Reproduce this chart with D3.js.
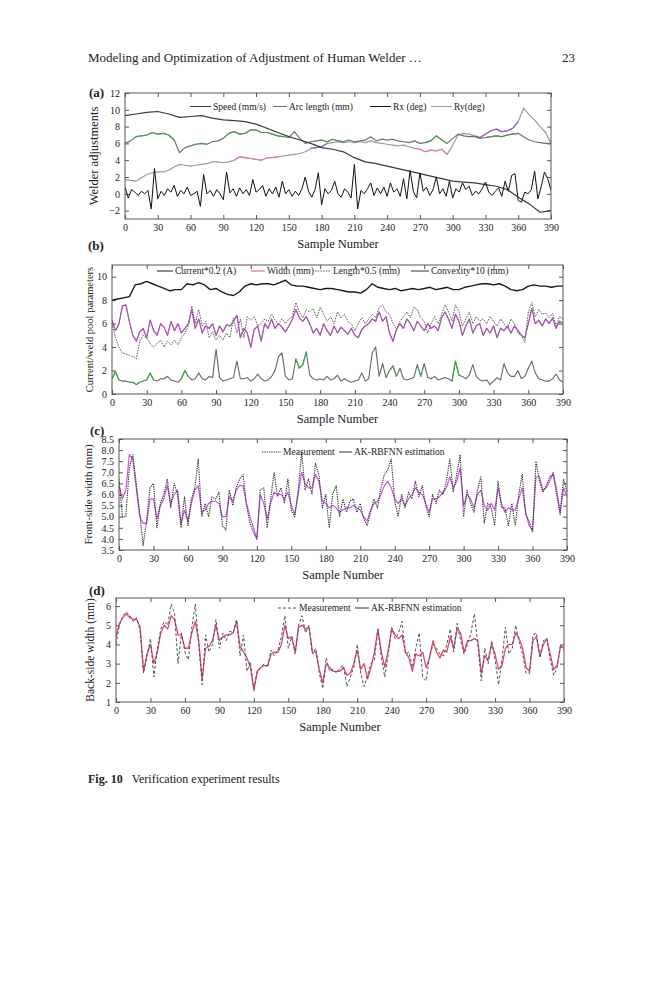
<!DOCTYPE html>
<html><head><meta charset="utf-8">
<script src="https://cdn.jsdelivr.net/npm/d3@7"></script>
<style>
body{margin:0;background:#fff}
svg{display:block}
text{font-family:"Liberation Serif","DejaVu Serif",serif;fill:#222}
</style>
</head><body>
<svg id="c" width="659" height="1000"></svg>
<script>
// ---------- DATA ----------
const sampleTicks = [0,30,60,90,120,150,180,210,240,270,300,330,360,390];

// Panel (a) – welder adjustments
const speedStep = 10;
const speed = [9.3,9.5,9.7,9.8,9.5,9.1,9.2,9.3,9.0,8.8, 8.7,8.6,8.3,7.8,7.3,6.8,6.4,6.0,5.5,5.3,
  5.0,4.3,3.8,3.6,3.3,3.0,2.7,2.4,2.1,1.8, 1.5,1.4,1.3,1.1,0.9,0.5,-0.4,-1.2,-2.2,-2.0];
const arcStep = 5;
const arcLength = [6.0,6.3,6.8,6.9,7.0,7.3,7.1,7.2,7.0,6.4, 4.9,5.5,5.7,5.9,6.0,5.9,6.2,6.3,6.6,7.2,
  7.4,7.1,7.2,7.6,7.6,7.3,7.3,7.1,6.9,6.8, 6.7,7.4,6.6,6.0,6.2,6.3,6.4,6.2,6.5,6.3,
  6.2,6.4,6.2,6.3,6.4,6.8,6.3,6.5,6.4,6.5, 6.3,6.2,6.1,6.3,6.0,6.1,6.3,6.9,6.4,6.0,
  6.6,7.1,6.9,6.8,6.8,6.6,6.7,6.8,6.9,6.8, 7.0,7.1,7.2,6.8,6.4,6.2,6.1,6.0,6.0];
const rxStep = 3;
const rx = [0.8,-0.5,0.5,0.2,-0.2,0.3,0.0,0.4,-1.8,3.0, -0.6,0.3,-0.2,0.6,0.2,1.0,-0.3,0.4,0.0,0.8,
  -0.2,0.0,0.3,-1.5,2.3,0.0,0.4,-0.3,0.5,0.0, -0.7,2.6,0.1,0.6,-0.3,0.7,0.0,0.5,-0.2,1.7,
  0.2,0.5,1.0,-0.3,0.6,0.0,0.8,-0.4,1.5,0.0, 0.5,-0.3,0.3,-0.2,0.6,2.0,0.3,-0.4,0.5,2.5,
  -1.3,0.6,0.0,0.4,1.5,0.0,-0.4,0.6,0.2,-0.5, 3.5,-1.8,0.4,0.0,0.6,1.3,-0.2,0.7,0.0,0.8,
  -0.3,1.3,0.2,0.6,-0.3,1.8,-0.6,2.8,0.3,-0.5, 2.5,0.3,0.8,-0.2,0.5,2.0,0.0,0.6,-0.3,1.5,
  -0.5,0.6,0.2,1.3,0.5,0.9,-0.2,0.3,0.0,0.6, 1.4,0.2,-0.2,0.3,0.7,-0.3,1.5,0.3,2.2,2.4,
  -0.8,-1.0,0.2,0.0,0.5,2.7,-0.6,0.8,2.6,1.8, 0.4];
const ryStep = 5;
const ry = [1.7,1.6,1.5,1.9,2.3,2.5,2.6,2.6,2.8,3.2, 3.5,3.4,3.3,3.4,3.5,3.6,3.8,3.8,3.7,3.8,
  4.0,4.4,4.3,4.2,4.1,4.0,4.3,4.3,4.4,4.5, 4.6,4.7,4.8,5.0,5.4,5.5,5.6,6.0,6.1,6.2,
  6.1,6.2,6.1,6.2,6.1,6.3,6.1,6.0,5.9,5.8, 5.7,5.8,5.6,5.4,5.3,5.0,5.2,5.1,5.3,4.7,
  5.8,7.0,7.2,7.1,6.9,6.7,7.1,7.5,7.7,7.4, 7.5,7.8,8.6,10.2,9.4,8.8,8.0,7.3,6.0];
const arcGreenRanges = [[10,45],[60,75],[90,145],[175,200],[275,295],[330,360]];
const ryPinkRanges = [[100,140],[265,295]];
const ryPurpleRanges = [[170,185],[320,360]];

// Panel (b) – current / weld pool parameters
const currentStep = 5;
const current = [8.0,8.1,8.2,8.3,9.3,9.4,9.6,9.4,9.2,9.0, 8.8,8.9,8.9,9.4,9.3,9.5,9.3,8.9,9.0,8.7,
  8.5,8.4,8.7,9.2,9.4,9.3,9.4,9.4,9.3,9.5, 9.7,9.3,9.2,9.2,9.1,9.0,8.9,9.0,9.0,8.9,
  8.8,8.7,8.7,8.6,8.9,9.4,9.1,9.0,8.9,9.0, 8.8,8.9,9.0,8.9,9.0,9.1,8.9,9.0,9.1,8.9,
  8.9,9.1,9.2,9.3,9.4,9.4,9.3,9.4,9.2,8.9, 8.8,8.9,9.2,9.3,9.2,9.2,9.1,9.2,9.2];
const poolStep = 3;
const width = [6.3,5.4,6.0,7.5,7.6,6.2,5.0,4.5,5.3,5.6, 4.8,6.3,5.4,5.0,6.0,5.7,5.0,6.2,5.4,6.0,
  5.2,5.6,6.0,7.2,5.6,6.4,5.2,5.8,5.6,6.0, 5.0,5.8,5.3,5.9,5.8,6.2,6.7,4.8,5.6,5.2,
  4.0,5.5,5.8,4.5,6.0,5.6,6.4,5.6,6.0,5.7, 5.3,5.8,6.4,7.2,6.5,6.2,6.6,6.0,5.2,5.6,
  5.0,6.0,5.4,5.0,5.8,5.2,5.7,5.4,5.1,5.6, 5.0,4.8,5.5,5.8,6.0,6.4,6.2,7.0,6.2,6.6,
  5.2,4.5,5.5,6.0,5.6,6.4,6.0,5.4,6.2,5.8, 5.4,6.0,5.6,5.8,5.4,6.5,7.0,6.4,5.6,6.8,
  6.2,5.0,5.8,6.4,5.2,5.8,6.0,5.0,5.6,5.2, 5.8,4.8,5.6,5.4,5.8,5.2,5.8,5.4,5.0,4.8,
  6.0,7.3,6.0,6.3,5.8,6.4,6.0,6.5,5.6,6.2, 6.0];
const lengthHalf = [6.0,4.8,4.0,3.5,3.4,3.3,3.2,3.0,4.5,5.0, 4.8,4.3,4.0,4.3,4.6,4.0,4.5,4.2,4.6,4.2,
  4.8,5.2,5.8,7.5,6.0,7.2,5.8,6.2,4.8,5.3, 4.6,5.0,4.6,5.2,4.8,6.5,5.2,6.4,4.8,6.6,
  6.3,6.6,5.8,6.0,6.4,6.2,6.8,6.3,6.0,6.4, 6.0,6.4,6.6,7.8,7.0,6.5,7.2,7.0,7.3,6.5,
  7.4,6.8,6.2,6.6,6.0,7.0,6.5,6.8,6.2,6.0, 5.4,6.0,6.5,6.0,6.4,6.8,6.5,7.4,7.6,7.0,
  6.8,6.0,5.5,6.2,6.6,7.0,6.5,7.4,7.2,6.5, 6.2,5.2,6.0,6.6,6.0,6.8,7.6,7.0,6.2,7.6,
  7.0,5.8,6.4,7.0,6.0,6.6,6.2,6.4,6.0,6.6, 6.2,5.8,6.4,6.0,5.6,6.4,6.0,5.2,5.0,4.4,
  7.0,7.8,6.6,7.2,6.8,6.9,6.5,6.9,5.8,6.6, 6.4];
const convexity = [1.3,1.9,1.2,1.1,1.1,1.0,1.0,0.8,1.0,1.1, 1.2,1.8,1.2,1.1,1.3,1.3,1.5,1.2,1.1,1.0,
  1.3,2.0,1.5,1.2,1.3,1.8,1.3,1.2,1.5,1.4, 3.8,1.4,1.1,1.2,1.3,1.4,2.8,1.3,1.3,1.4,
  1.1,1.3,1.7,1.3,1.1,1.2,1.5,2.0,3.2,3.5, 1.5,1.2,1.3,3.0,2.2,2.5,3.6,1.6,1.3,1.2,
  1.3,1.2,1.5,1.2,1.3,1.6,1.1,1.3,1.1,1.0, 1.1,1.2,1.8,1.1,1.3,3.5,4.0,1.5,2.6,1.4,
  2.0,2.4,1.5,2.2,1.3,1.2,1.3,1.4,2.5,1.5, 2.6,1.4,1.3,1.5,1.2,1.3,1.4,1.3,1.1,2.8,
  1.6,1.5,1.3,1.6,2.5,1.5,1.2,1.1,1.2,0.8, 1.1,1.4,1.2,2.6,1.8,1.5,1.5,2.0,1.3,1.5,
  2.2,2.8,1.8,1.3,1.2,1.1,1.1,1.3,1.7,1.2, 1.0];
const convexGreenRanges = [[0,6],[15,24],[30,36],[45,50],[60,66],[157,170],[238,246],[262,268],[294,300]];

// Panel (c) – front-side width
const frontStep = 3;
const frontEst = [6.4,5.8,6.2,7.8,7.6,6.3,5.0,4.7,4.7,5.8, 5.8,4.9,5.5,5.8,6.4,5.6,6.0,6.2,4.7,5.3,
  4.8,5.6,6.2,6.4,5.2,5.3,5.6,5.7,5.7,5.6, 5.0,5.0,5.9,5.7,6.2,6.4,6.4,5.6,5.0,4.5,
  4.0,6.0,5.6,4.9,5.6,6.1,6.0,6.0,5.8,6.1, 5.5,5.1,6.0,7.0,6.5,6.3,6.3,6.9,6.6,5.7,
  5.6,5.4,5.5,5.4,5.2,5.3,5.4,5.4,5.5,5.4, 5.3,5.0,4.8,5.3,5.6,5.7,6.0,6.4,6.6,6.3,
  5.8,5.6,5.8,5.5,5.8,6.0,6.3,6.1,6.0,5.6, 5.2,5.8,5.8,5.9,6.1,6.3,6.8,6.3,6.6,7.2,
  5.5,6.0,5.8,5.4,6.0,6.2,5.5,5.3,5.6,5.3, 6.3,5.6,5.2,5.4,5.3,5.3,5.8,6.3,5.2,4.6,
  4.4,6.8,6.8,6.2,6.3,6.6,7.0,6.2,5.2,6.3, 5.9];
const frontMeas = [6.7,5.0,5.0,7.2,7.8,6.5,5.2,3.7,4.8,6.3, 6.5,4.5,5.6,6.0,6.7,5.4,6.5,6.0,4.5,5.9,
  4.6,5.8,6.3,7.6,5.0,5.6,5.0,5.9,5.8,6.1, 4.6,4.4,6.2,5.5,6.3,6.7,6.9,5.5,4.7,4.3,
  4.0,6.2,6.3,4.5,5.8,7.0,5.9,6.3,5.6,6.7, 5.3,5.0,6.2,7.9,6.2,6.7,6.0,7.4,6.9,5.4,
  6.0,4.5,6.0,6.4,5.0,5.8,5.2,5.7,5.8,5.2, 5.6,4.9,4.6,5.2,5.8,5.4,6.3,6.9,7.1,7.6,
  5.7,5.0,6.0,5.4,6.1,5.8,6.6,5.9,6.4,5.5, 5.0,6.0,5.6,6.2,6.0,6.6,7.6,6.1,6.9,7.8,
  5.0,6.2,5.6,5.2,6.2,6.8,4.7,5.6,5.4,4.6, 6.6,5.4,5.4,4.6,5.6,4.6,6.0,6.9,5.1,4.8,
  4.3,7.5,6.6,6.1,6.4,6.8,6.9,6.0,5.1,6.7, 6.1];

// Panel (d) – back-side width
const backStep = 3;
const backEst = [4.4,5.1,5.4,5.6,5.4,5.3,5.3,4.9,2.6,3.5, 4.0,3.0,3.6,4.6,5.0,4.8,5.5,5.3,4.5,4.5,
  3.8,3.8,4.6,5.2,4.2,2.2,3.8,3.9,4.2,5.0, 4.2,4.4,4.5,4.5,4.6,5.2,3.9,3.6,3.3,2.8,
  1.6,2.6,2.8,2.9,2.9,3.5,3.6,3.6,4.0,5.0, 4.3,4.4,3.6,4.9,5.0,4.8,4.9,3.6,3.6,2.7,
  2.0,3.0,2.8,2.6,2.6,2.6,2.8,2.4,2.5,3.0, 3.7,2.7,3.0,2.2,2.8,3.6,4.8,3.6,2.8,3.7,
  4.8,4.5,4.3,4.5,3.6,3.3,2.6,3.5,3.4,3.6, 2.8,3.3,4.2,3.6,3.3,3.7,3.6,4.4,3.8,4.8,
  4.6,3.6,4.2,4.2,4.3,4.2,2.5,3.4,3.2,4.0, 3.5,2.7,2.9,3.8,4.0,4.0,4.6,4.3,3.8,2.8,
  2.6,4.2,4.4,3.4,4.0,4.3,3.5,2.7,2.9,3.9, 3.8];
const backMeas = [4.0,5.0,5.5,5.7,5.5,5.2,5.4,4.7,2.5,3.4, 4.3,2.3,3.8,4.8,5.2,5.0,6.1,5.6,3.0,4.6,
  3.6,3.2,4.9,6.1,4.0,1.9,4.5,3.6,4.0,5.3, 3.8,4.6,4.2,4.7,4.6,5.3,3.4,4.5,2.6,3.1,
  1.7,2.6,2.8,3.0,2.8,3.7,3.4,3.7,4.4,5.5, 3.8,4.4,3.5,5.0,5.5,4.6,5.0,3.5,3.8,2.5,
  1.7,3.3,2.6,2.7,2.5,2.8,2.9,1.8,2.3,2.8, 4.0,2.5,1.8,2.4,3.0,3.2,4.8,3.3,2.3,3.5,
  4.9,4.3,4.6,5.2,3.5,3.6,2.8,3.8,4.6,2.3, 2.1,3.4,4.0,3.8,3.5,3.4,4.0,4.8,3.6,5.1,
  4.2,3.5,4.0,4.6,5.6,4.0,2.1,3.8,3.0,4.2, 3.2,1.9,3.2,4.9,3.5,3.8,5.0,4.1,3.5,2.5,
  2.5,4.5,4.6,3.3,4.2,4.3,3.2,2.4,2.8,4.0, 3.7];

// ---------- DRAWING ----------
const svg = d3.select('#c');
const serif = '"Liberation Serif","DejaVu Serif",serif';

svg.append('text').attr('x',88).attr('y',62).attr('font-size',13)
  .text('Modeling and Optimization of Adjustment of Human Welder …');
svg.append('text').attr('x',575).attr('y',62).attr('font-size',13).attr('text-anchor','end').text('23');

const cap = svg.append('text').attr('x',88).attr('y',783).attr('font-size',12);
cap.append('tspan').attr('font-weight','bold').text('Fig. 10');
cap.append('tspan').attr('dx',9).text('Verification experiment results');

function toPts(vals, step){ return vals.map((v,i)=>[i*step, v]); }
function inRanges(pts, ranges){ return ranges.map(r=>pts.filter(p=>p[0]>=r[0]&&p[0]<=r[1])); }

let clipId = 0;
function panel(o){
  const g = svg.append('g');
  const x = d3.scaleLinear().domain([0,390]).range([o.l,o.r]);
  const y = d3.scaleLinear().domain(o.yd).range([o.b,o.t]);
  const id = 'clip'+(clipId++);
  g.append('clipPath').attr('id',id).append('rect')
    .attr('x',o.l).attr('y',o.t).attr('width',o.r-o.l).attr('height',o.b-o.t);

  const styleAxis = sel => {
    sel.select('.domain').remove();
    sel.selectAll('.tick line').attr('stroke','#555');
    sel.selectAll('.tick text').attr('font-family',serif).attr('font-size',10).attr('fill','#222');
  };
  g.append('g').attr('transform',`translate(0,${o.b})`)
    .call(d3.axisBottom(x).tickValues(sampleTicks).tickSize(-4).tickPadding(5)).call(styleAxis);
  g.append('g').attr('transform',`translate(0,${o.t})`)
    .call(d3.axisTop(x).tickValues(sampleTicks).tickSize(-4).tickFormat('')).call(styleAxis);
  g.append('g').attr('transform',`translate(${o.l},0)`)
    .call(d3.axisLeft(y).tickValues(o.yt).tickSize(-4).tickPadding(5).tickFormat(d3.format(o.yf))).call(styleAxis);
  g.append('g').attr('transform',`translate(${o.r},0)`)
    .call(d3.axisRight(y).tickValues(o.yt).tickSize(-4).tickFormat('')).call(styleAxis);

  const line = d3.line().x(d=>x(d[0])).y(d=>y(d[1]));
  const lg = g.append('g').attr('clip-path',`url(#${id})`);
  o.series.forEach(s=>{
    const sets = s.ranges ? inRanges(s.pts, s.ranges) : [s.pts];
    sets.forEach(p=>{
      lg.append('path').attr('d',line(p)).attr('fill','none')
        .attr('stroke',s.color).attr('stroke-width',s.w||1)
        .attr('stroke-opacity',s.op||1)
        .attr('stroke-dasharray',s.dash||null)
        .attr('stroke-linejoin','round');
    });
  });

  g.append('rect').attr('x',o.l).attr('y',o.t).attr('width',o.r-o.l).attr('height',o.b-o.t)
    .attr('fill','none').attr('stroke','#555').attr('stroke-width',1);

  // legend
  o.legend.forEach(it=>{
    g.append('line').attr('x1',it.x1).attr('x2',it.x2).attr('y1',o.ly).attr('y2',o.ly)
      .attr('stroke',it.color).attr('stroke-width',1).attr('stroke-dasharray',it.dash||null);
    g.append('text').attr('x',it.x2+2).attr('y',o.ly+3.3).attr('font-size',o.lfs||9.5).text(it.label);
  });

  // titles
  g.append('text').attr('x',(o.l+o.r)/2).attr('y',o.b+29).attr('text-anchor','middle')
    .attr('font-size',12.5).text('Sample Number');
  g.append('text').attr('transform',`translate(${o.yx},${(o.t+o.b)/2}) rotate(-90)`)
    .attr('text-anchor','middle').attr('font-size',o.yfs).text(o.ylabel);
  g.append('text').attr('x',o.px||88).attr('y',o.py).attr('font-size',13).attr('font-weight','bold').text(o.tag);
}

// (a)
const speedPts = toPts(speed, speedStep), arcPts = toPts(arcLength, arcStep),
      rxPts = toPts(rx, rxStep), ryPts = toPts(ry, ryStep);
panel({
  l:125, r:551, t:93, b:219, yd:[-3,12], yt:[-2,0,2,4,6,8,10,12], yf:'d',
  ylabel:'Welder adjustments', yx:98, yfs:12.5, tag:'(a)', py:97, px:89,
  series:[
    {pts:ryPts, color:'#9a9a9a', w:1.2},
    {pts:ryPts, ranges:ryPinkRanges, color:'#f070a8', w:1.2, op:0.8},
    {pts:ryPts, ranges:ryPurpleRanges, color:'#9a40e0', w:1.2, op:0.8},
    {pts:arcPts, color:'#707070', w:1.2},
    {pts:arcPts, ranges:arcGreenRanges, color:'#3aaa40', w:1.1, op:0.8},
    {pts:speedPts, color:'#3a3a3a', w:1.2},
    {pts:rxPts, color:'#111', w:1}
  ],
  ly:106.5, lfs:9.5,
  legend:[
    {x1:190,x2:211,color:'#3a3a3a',label:'Speed (mm/s)'},
    {x1:273,x2:287,color:'#707070',label:'Arc length (mm)'},
    {x1:370,x2:391,color:'#111',label:'Rx (deg)'},
    {x1:431,x2:452,color:'#9a9a9a',label:'Ry(deg)'}
  ]
});

// (b)
const curPts = toPts(current, currentStep), widthPts = toPts(width, poolStep),
      lenPts = toPts(lengthHalf, poolStep), convPts = toPts(convexity, poolStep);
panel({
  l:112, r:563, t:265, b:394, yd:[0,11], yt:[0,2,4,6,8,10], yf:'d',
  ylabel:'Current/weld pool parameters', yx:93, yfs:10.5, tag:'(b)', py:250,
  series:[
    {pts:lenPts, color:'#555', w:1, dash:'1.5,1.2'},
    {pts:widthPts, color:'#777', w:1.1},
    {pts:widthPts, color:'#c040d0', w:1.1, op:0.75},
    {pts:convPts, color:'#666', w:1.1},
    {pts:convPts, ranges:convexGreenRanges, color:'#30b040', w:1.1, op:0.85},
    {pts:curPts, color:'#1a1a1a', w:1.4}
  ],
  ly:271, lfs:9.5,
  legend:[
    {x1:157,x2:173,color:'#1a1a1a',label:'Current*0.2 (A)'},
    {x1:251,x2:265,color:'#e05070',label:'Width (mm)'},
    {x1:315,x2:331,color:'#555',dash:'1.5,1.2',label:'Length*0.5 (mm)'},
    {x1:411,x2:429,color:'#333',label:'Convexity*10 (mm)'}
  ]
});

// (c)
panel({
  l:119, r:567, t:439, b:550, yd:[3.5,8.5], yt:[3.5,4,4.5,5,5.5,6,6.5,7,7.5,8,8.5], yf:'.1f',
  ylabel:'Front-side width (mm)', yx:92, yfs:11, tag:'(c)', py:435, px:90,
  series:[
    {pts:toPts(frontEst, frontStep), color:'#b83ad8', w:1.2, op:0.85},
    {pts:toPts(frontMeas, frontStep), color:'#333', w:1.1, dash:'1.3,1'}
  ],
  ly:452, lfs:9.5,
  legend:[
    {x1:262,x2:281,color:'#333',dash:'1.3,1',label:'Measurement'},
    {x1:339,x2:352,color:'#333',label:'AK-RBFNN estimation'}
  ]
});

// (d)
panel({
  l:116, r:564, t:598, b:702, yd:[1,6.42], yt:[1,2,3,4,5,6], yf:'d',
  ylabel:'Back-side width (mm)', yx:94, yfs:11.5, tag:'(d)', py:595, px:89,
  series:[
    {pts:toPts(backEst, backStep), color:'#e6305a', w:1.3, op:0.9},
    {pts:toPts(backMeas, backStep), color:'#4a5a55', w:1, dash:'3,2'}
  ],
  ly:608, lfs:9.5,
  legend:[
    {x1:278,x2:297,color:'#555',dash:'3,2',label:'Measurement'},
    {x1:355,x2:369,color:'#333',label:'AK-RBFNN estimation'}
  ]
});
</script>
</body></html>
